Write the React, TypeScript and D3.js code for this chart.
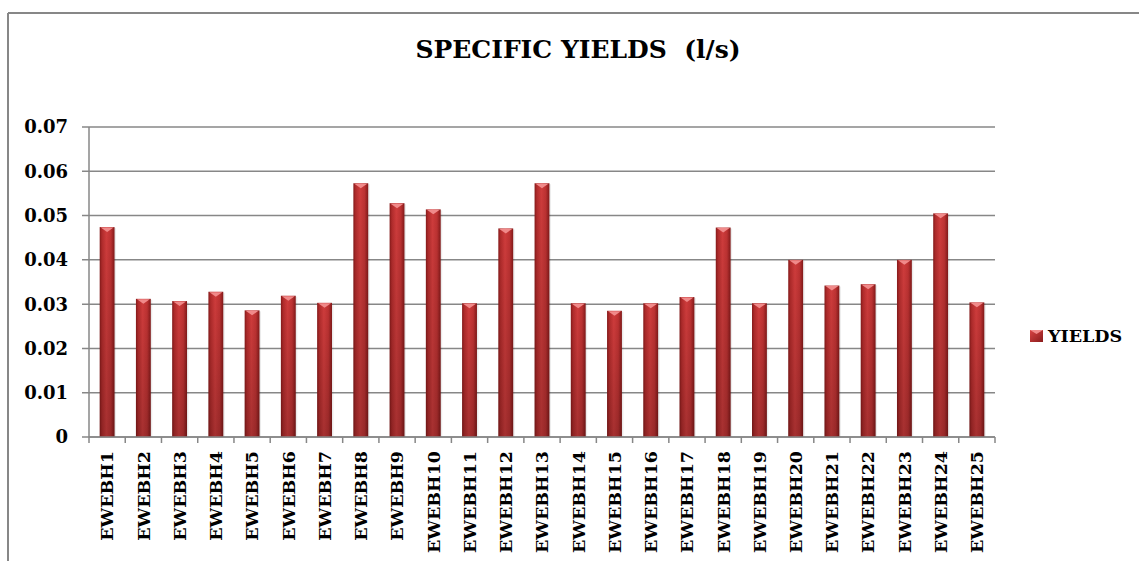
import React from "react";
import * as d3 from "d3";

const categories = [
  "EWEBH1","EWEBH2","EWEBH3","EWEBH4","EWEBH5","EWEBH6","EWEBH7","EWEBH8","EWEBH9","EWEBH10",
  "EWEBH11","EWEBH12","EWEBH13","EWEBH14","EWEBH15","EWEBH16","EWEBH17","EWEBH18","EWEBH19","EWEBH20",
  "EWEBH21","EWEBH22","EWEBH23","EWEBH24","EWEBH25",
];
const yields = [
  0.0474, 0.0312, 0.0307, 0.0328, 0.0286, 0.0319, 0.0303, 0.0573, 0.0528, 0.0514,
  0.0302, 0.0471, 0.0573, 0.0302, 0.0285, 0.0302, 0.0316, 0.0473, 0.0302, 0.0400,
  0.0342, 0.0345, 0.0400, 0.0505, 0.0304,
];
const yTicks = [0, 0.01, 0.02, 0.03, 0.04, 0.05, 0.06, 0.07];
const seriesName = "YIELDS";
const title = "SPECIFIC YIELDS  (l/s)";

const W = 1139;
const H = 561;
const left = 89;
const right = 995;
const top = 127;
const bottom = 437;
const FONT = "'DejaVu Serif', serif";
const GRID = "#878787";

export default function App() {
  const x = d3.scaleBand<string>().domain(categories).range([left, right]).paddingInner(0.59).paddingOuter(0.295);
  const xb = d3.scaleBand<string>().domain(categories).range([left, right]);
  const y = d3.scaleLinear().domain([0, 0.07]).range([bottom, top]);
  const bw = x.bandwidth();

  return (
    <svg width={W} height={H} style={{ position: "absolute", left: 0, top: 0, background: "#fff" }}>
      <defs>
        <linearGradient id="barH" x1="0" x2="1" y1="0" y2="0">
          <stop offset="0" stopColor="#861a1a" />
          <stop offset="0.15" stopColor="#b02b2b" />
          <stop offset="0.45" stopColor="#cf3c3c" />
          <stop offset="0.75" stopColor="#bd3232" />
          <stop offset="1" stopColor="#821919" />
        </linearGradient>
        <linearGradient id="barV" x1="0" x2="0" y1="0" y2="1">
          <stop offset="0" stopColor="#000" stopOpacity="0" />
          <stop offset="1" stopColor="#000" stopOpacity="0.2" />
        </linearGradient>
        <linearGradient id="legH" x1="0" x2="1" y1="0" y2="1">
          <stop offset="0" stopColor="#d84444" />
          <stop offset="1" stopColor="#8a1c1c" />
        </linearGradient>
      </defs>

      {/* frame */}
      <line x1={8} x2={W} y1={13} y2={13} stroke={GRID} strokeWidth={2} />
      <line x1={8} x2={8} y1={13} y2={H} stroke={GRID} strokeWidth={2} />

      {/* title */}
      <text x={578} y={58} textAnchor="middle" fontFamily={FONT} fontWeight="bold" fontSize={25} fill="#000" style={{ whiteSpace: "pre" }}>
        {title}
      </text>

      {/* gridlines and y ticks */}
      {yTicks.map((t) => (
        <g key={t}>
          <line x1={82} x2={right} y1={y(t)} y2={y(t)} stroke={GRID} strokeWidth={1.5} />
          <text x={68} y={y(t)} dy="0.36em" textAnchor="end" fontFamily={FONT} fontWeight="bold" fontSize={18} fill="#000">
            {String(t)}
          </text>
        </g>
      ))}
      <line x1={left} x2={left} y1={top} y2={bottom + 6} stroke={GRID} strokeWidth={1.5} />

      {/* bars */}
      {categories.map((c, i) => {
        const bx = x(c)!;
        const by = y(yields[i]);
        const bh = bottom - by;
        return (
          <g key={c}>
            <rect x={bx + 1.5} y={by + 1} width={bw} height={bh - 1} fill="#000" opacity={0.08} />
            <rect x={bx} y={by} width={bw} height={bh} fill="url(#barH)" />
            <rect x={bx} y={by} width={bw} height={bh} fill="url(#barV)" />
            <polygon
              points={`${bx + 1},${by + 0.5} ${bx + bw - 1},${by + 0.5} ${bx + bw / 2},${by + 5}`}
              fill="#f08a8a"
            />
          </g>
        );
      })}

      {/* x axis */}
      <line x1={left} x2={right} y1={bottom} y2={bottom} stroke={GRID} strokeWidth={1.5} />
      {categories.map((c) => (
        <line key={"t" + c} x1={xb(c)! + xb.bandwidth()} x2={xb(c)! + xb.bandwidth()} y1={bottom} y2={bottom + 6} stroke={GRID} strokeWidth={1.5} />
      ))}
      {categories.map((c) => {
        const cx = xb(c)! + xb.bandwidth() / 2;
        return (
          <text
            key={"l" + c}
            transform={`translate(${cx},451) rotate(-90)`}
            dy="0.36em"
            textAnchor="end"
            fontFamily={FONT}
            fontWeight="bold"
            fontSize={17.5}
            fill="#000"
          >
            {c}
          </text>
        );
      })}

      {/* legend */}
      <rect x={1030} y={330} width={13} height={12} fill="url(#legH)" />
      <polygon points="1030,330 1043,330 1036.5,334" fill="#f08a8a" />
      <text x={1048} y={336} dy="0.36em" fontFamily={FONT} fontWeight="bold" fontSize={17.5} fill="#000">
        {seriesName}
      </text>
    </svg>
  );
}
